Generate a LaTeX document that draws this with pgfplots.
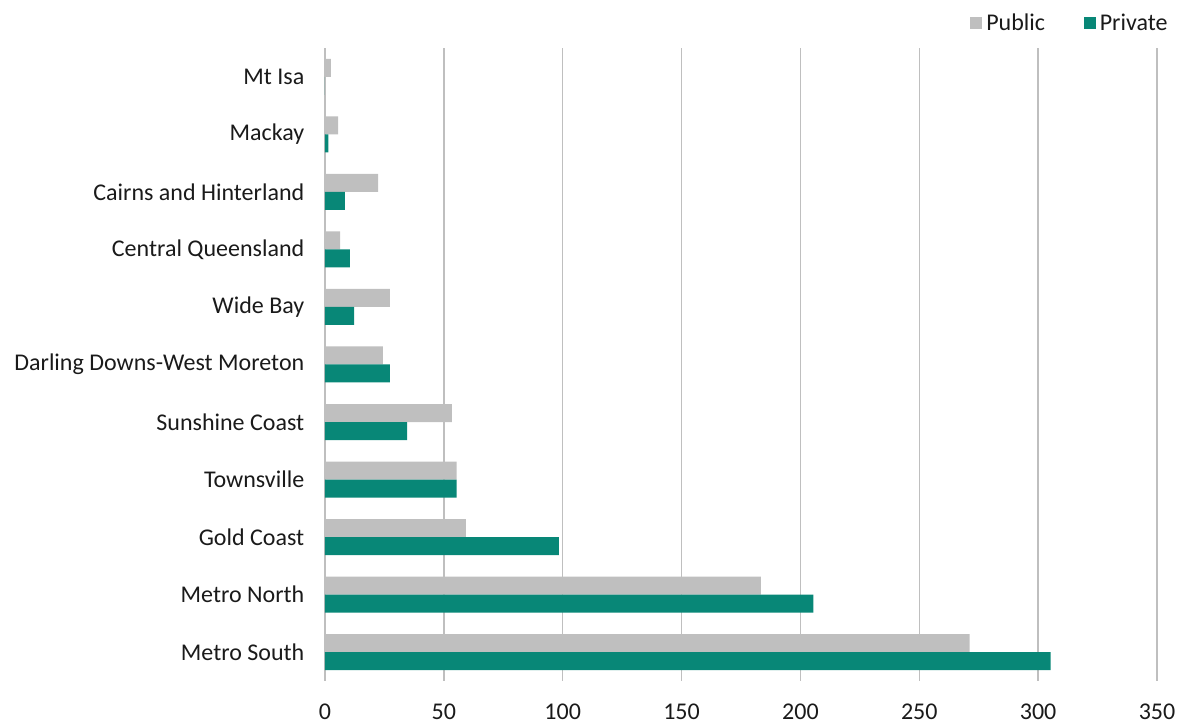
\documentclass[border=0pt]{standalone}
\usepackage{fontspec}
\setmainfont{Carlito}
\usepackage{pgfplots}
\pgfplotsset{compat=1.18}
\definecolor{pubgray}{HTML}{BFBFBF}
\definecolor{privteal}{HTML}{088777}
\definecolor{gridgray}{HTML}{BFBFBF}
\definecolor{txt}{HTML}{1A1A1A}
\begin{document}
\begin{tikzpicture}[x=1pt,y=1pt]
\begin{axis}[
  at={(0,0)}, anchor=south west,
  scale only axis,
  width=624pt, height=474.75pt,
  xmin=0, xmax=350,
  ymin=-0.5, ymax=10.5,
  xtick={0,50,...,350},
  ytick={0,...,10},
  yticklabels={Metro South,Metro North,Gold Coast,Townsville,Sunshine Coast,Darling Downs-West Moreton,Wide Bay,Central Queensland,Cairns and Hinterland,Mackay,Mt Isa},
  axis lines*=left,
  axis line style={draw=none},
  major tick length=0pt,
  xmajorgrids,
  major grid style={gridgray, line width=1.1pt},
  /pgf/number format/assume math mode=true,
  tick label style={font=\fontsize{18}{20}\selectfont, text=txt},
  xticklabel style={yshift=-14pt},
  yticklabel style={xshift=-12pt},
  xbar, bar width=13.5pt,
  legend style={draw=none, fill=none, at={(1.0226,1.0158)}, anchor=south east,
    legend columns=2, font=\fontsize{18}{20}\selectfont, text=txt,
    /tikz/every even column/.append style={column sep=26pt},
    nodes={inner xsep=3pt}},
  legend image code/.code={\fill[#1] (0pt,-4.5pt) rectangle (9pt,4.5pt);},
]
\addplot[fill=pubgray, draw=none, bar shift=6.75pt] coordinates {
 (271.2,0) (183.4,1) (59.3,2) (55.4,3) (53.4,4) (24.4,5) (27.3,6) (6.4,7) (22.4,8) (5.5,9) (2.5,10)};
\addlegendentry{Public}
\addplot[fill=privteal, draw=none, bar shift=-6.75pt] coordinates {
 (305.2,0) (205.4,1) (98.4,2) (55.4,3) (34.5,4) (27.3,5) (12.3,6) (10.5,7) (8.4,8) (1.4,9) (0,10)};
\addlegendentry{Private}
\end{axis}
\pgfresetboundingbox
\useasboundingbox (-243.75,-32.25) rectangle (642.75,510.75);
\end{tikzpicture}
\end{document}
